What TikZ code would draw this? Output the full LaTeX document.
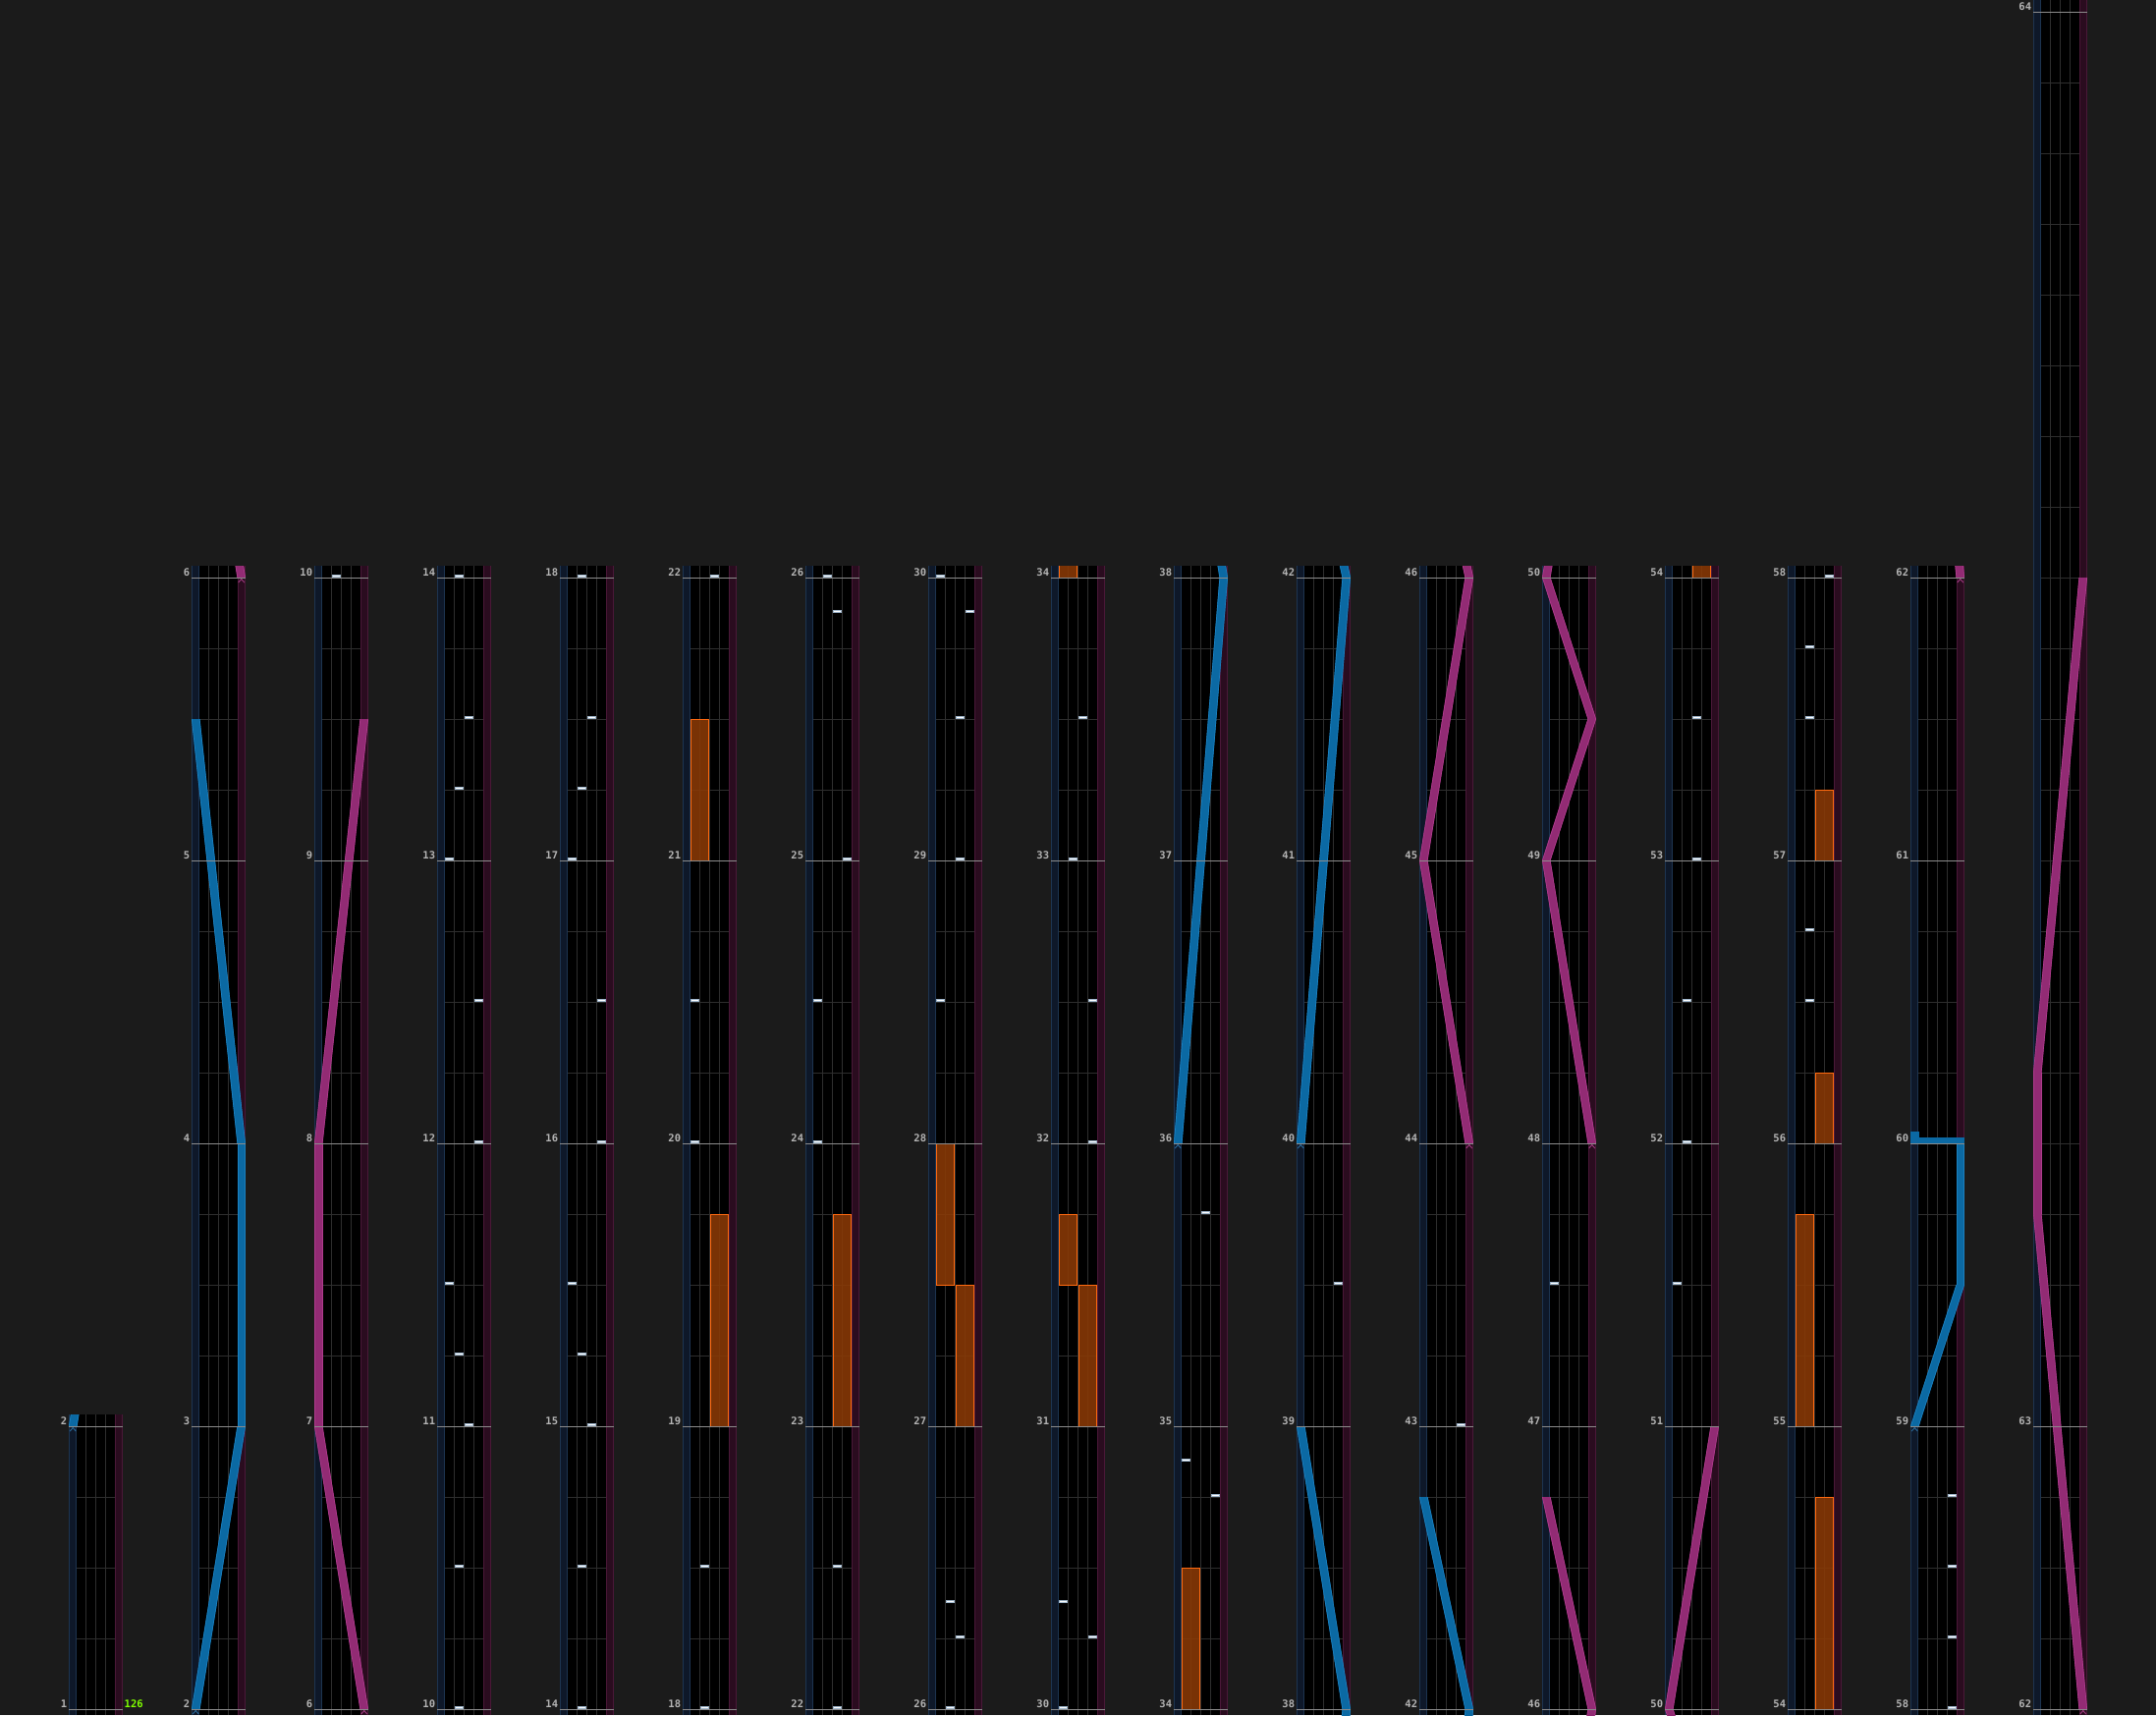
\documentclass[tikz,border=0pt]{standalone}
\usepackage{fontspec}
\newfontfamily\labfont{DejaVu Sans Mono}
\definecolor{bgc}{HTML}{1B1B1B}
\definecolor{gridc}{HTML}{2E2E2E}
\definecolor{railLc}{HTML}{0E1829}
\definecolor{railLe}{HTML}{1D3450}
\definecolor{railRc}{HTML}{2A0C1F}
\definecolor{railRe}{HTML}{4A1838}
\definecolor{mlinec}{HTML}{8C8C8C}
\definecolor{labc}{HTML}{B4B4B4}
\definecolor{lblue}{HTML}{0B69A3}
\definecolor{lbluee}{HTML}{1A80C0}
\definecolor{lmag}{HTML}{922B74}
\definecolor{lmage}{HTML}{AE3B8C}
\definecolor{mkblue}{HTML}{2A6A9A}
\definecolor{mkmag}{HTML}{A03A80}
\definecolor{chipb}{HTML}{9FB6CC}
\definecolor{fxfill}{HTML}{8A3A06}
\definecolor{fxedge}{HTML}{FF6A10}
\definecolor{bpmc}{HTML}{80FF00}
\tikzset{
  gridline/.style={draw=gridc, line width=0.8pt},
  mline/.style={draw=mlinec, line width=1pt},
  lab/.style={anchor=base east, inner sep=0pt, text=labc, font=\labfont\bfseries\fontsize{10.5}{12}\selectfont},
  bpm/.style={anchor=base west, inner sep=0pt, text=bpmc, font=\labfont\bfseries\fontsize{10.5}{12}\selectfont},
  chipbox/.style={fill=white, draw=chipb, line width=0.6pt},
  fxbox/.style={fill=fxfill, fill opacity=0.88, draw=fxedge, line width=0.8pt},
}
\def\curB{0}\def\curhi{4.1667}
% visibility test: #1,#2 beats (global), #3 code
\newcommand\vis[3]{\pgfmathsetmacro\vlo{min(#1,#2)-\curB}\pgfmathsetmacro\vhi{max(#1,#2)-\curB}%
  \ifdim\vhi pt<-0.3pt\relax\else\ifdim\vlo pt>\curhi pt\relax\else#3\fi\fi}
% chip: #1 beat, #2 lane
\newcommand\chip[2]{\vis{#1}{#1}{\filldraw[chipbox] ({7.3+10*(#2-1)+1.2},{#1-\curB+0.8/72}) rectangle ({7.3+10*#2-1.2},{#1-\curB+3.2/72});}}
% fx hold: #1 start, #2 end, #3 side (0 left, 1 right)
\newcommand\fx[3]{\vis{#1}{#2}{\filldraw[fxbox] ({8.3+20*#3},{#1-\curB}) rectangle ({26.7+20*#3},{#2-\curB});}}
% laser: #1 colour, #2 edge colour, #3 list T1/p1/T2/p2
\newcommand\laser[3]{%
  \foreach \ta/\pa/\tb/\pb in {#3}{\vis{\ta}{\tb}{\fill[#1] ({46.5*\pa},{\ta-\curB}) -- ({46.5*\pa+8.5},{\ta-\curB}) -- ({46.5*\pb+8.5},{\tb-\curB}) -- ({46.5*\pb},{\tb-\curB}) -- cycle;}}%
  \foreach \ta/\pa/\tb/\pb in {#3}{\vis{\ta}{\tb}{\draw[#2, line width=0.7pt] ({46.5*\pa+0.35},{\ta-\curB}) -- ({46.5*\pb+0.35},{\tb-\curB}) ({46.5*\pa+8.15},{\ta-\curB}) -- ({46.5*\pb+8.15},{\tb-\curB});}}}
% start marker: #1 beat, #2 pos, #3 colour
\newcommand\startmk[3]{\vis{#1}{#1}{%
  \draw[#3, line width=0.9pt] ({46.5*#2+1.2},{#1-\curB-5/72}) -- ({46.5*#2+4.25},{#1-\curB-1.5/72}) -- ({46.5*#2+7.3},{#1-\curB-5/72});
  \draw[white, line width=1pt] ({46.5*#2+0.8},{#1-\curB}) -- ({46.5*#2+7.7},{#1-\curB});}}
\newcommand\chart{%
  \fx{72}{75}{1}\fx{80}{82}{0}\fx{88}{91}{1}\fx{104}{106}{1}\fx{106}{108}{0}
  \fx{120}{122}{1}\fx{122}{123}{0}\fx{132}{134}{0}
  \fx{212}{215}{1}\fx{216}{219}{0}\fx{220}{221}{1}\fx{224}{225}{1}
  \laser{lblue}{lbluee}{4/0/8/1,8/1/12/1,12/1/18/0}
  \laser{lblue}{lbluee}{140/0/148/1,148/1/152/0}
  \laser{lblue}{lbluee}{156/0/164/1,164/1/167/0}
  \laser{lblue}{lbluee}{232/0/234/1,234/1/236/1}
  \vis{236}{236}{\fill[lblue] (0,{236-\curB}) rectangle (55,{236-\curB+6/72});
    \fill[lblue] (0,{236-\curB}) rectangle (8.5,{236-\curB+12/72});}
  \laser{lmag}{lmage}{20/1/24/0,24/0/28/0,28/0/34/1}
  \laser{lmag}{lmage}{172/1/176/0,176/0/180/1,180/1/183/0}
  \laser{lmag}{lmage}{188/1/192/0,192/0/194/1,194/1/196/0,196/0/200/1}
  \laser{lmag}{lmage}{244/1/251/0,251/0/253/0,253/0/260/1}
  \startmk{4}{0}{mkblue}\startmk{140}{0}{mkblue}\startmk{156}{0}{mkblue}\startmk{232}{0}{mkblue}
  \startmk{20}{1}{mkmag}\startmk{172}{1}{mkmag}\startmk{188}{1}{mkmag}\startmk{244}{1}{mkmag}
  \foreach \t/\l in {36/2,38/2,40/3,41/2,42/1,44/4,46/4,48/1,49/2,50/3,52/2,
    54/2,56/3,57/2,58/1,60/4,62/4,64/1,65/2,66/3,68/2,
    70/2,76/1,78/1,84/3,86/3,92/1,94/1,96/4,99.5/3,100/2,
    101/3,101.5/2,110/1,112/3,114/3,115.5/4,116/1,
    117/4,117.5/1,124/4,126/4,128/2,130/3,
    135/4,135.5/1,139/3,154/4,168/4,186/1,
    202/1,204/2,206/2,208/3,210/3,
    222/2,223/2,226/2,227/2,228/4,229/4,230/4,231/4}{\chip{\t}{\l}}
}
% column: #1 L, #2 B, #3 relative top, #4 number of beats, #5 labels (relative beat/num)
\newcommand\drawcol[5]{%
\def\curB{#2}\def\curhi{#3}%
\begin{scope}[shift={(#1,1740)}, yscale=-72]
  \begin{scope}
    \clip (0,-0.0834) rectangle (55,#3);
    \fill[railLc] (0,-0.0834) rectangle (7.3,#3);
    \fill[black] (7.3,-0.0834) rectangle (47.3,#3);
    \fill[railRc] (47.3,-0.0834) rectangle (55,#3);
    \foreach \xx in {17.3,27.3,37.3}{\draw[gridline] (\xx,-0.0834) -- (\xx,#3);}
    \foreach \t in {0,...,#4}{\draw[gridline] (7.3,\t) -- (47.3,\t);}
    \draw[railLe, line width=0.8pt] (0.5,-0.0834) -- (0.5,#3) (6.9,-0.0834) -- (6.9,#3);
    \draw[railRe, line width=0.8pt] (47.7,-0.0834) -- (47.7,#3) (54.5,-0.0834) -- (54.5,#3);
    \chart
  \end{scope}
  \foreach \t/\n in {#5}{\draw[mline] (0,\t) -- (55,\t); \node[lab] at (-1.7,{\t+1.2/72}) {\n};}
\end{scope}}
\begin{document}
\begin{tikzpicture}[x=1pt,y=-1pt]
\useasboundingbox (0,0) rectangle (2195,1746);
\fill[bgc] (0,0) rectangle (2195,1746);
\drawcol{70}{0}{4.1667}{4}{0/1,4/2}
\node[bpm] at (126.5,1738.8) {126};
\drawcol{195}{4}{16.1667}{16}{0/2,4/3,8/4,12/5,16/6}
\drawcol{320}{20}{16.1667}{16}{0/6,4/7,8/8,12/9,16/10}
\drawcol{445}{36}{16.1667}{16}{0/10,4/11,8/12,12/13,16/14}
\drawcol{570}{52}{16.1667}{16}{0/14,4/15,8/16,12/17,16/18}
\drawcol{695}{68}{16.1667}{16}{0/18,4/19,8/20,12/21,16/22}
\drawcol{820}{84}{16.1667}{16}{0/22,4/23,8/24,12/25,16/26}
\drawcol{945}{100}{16.1667}{16}{0/26,4/27,8/28,12/29,16/30}
\drawcol{1070}{116}{16.1667}{16}{0/30,4/31,8/32,12/33,16/34}
\drawcol{1195}{132}{16.1667}{16}{0/34,4/35,8/36,12/37,16/38}
\drawcol{1320}{148}{16.1667}{16}{0/38,4/39,8/40,12/41,16/42}
\drawcol{1445}{164}{16.1667}{16}{0/42,4/43,8/44,12/45,16/46}
\drawcol{1570}{180}{16.1667}{16}{0/46,4/47,8/48,12/49,16/50}
\drawcol{1695}{196}{16.1667}{16}{0/50,4/51,8/52,12/53,16/54}
\drawcol{1820}{212}{16.1667}{16}{0/54,4/55,8/56,12/57,16/58}
\drawcol{1945}{228}{16.1667}{16}{0/58,4/59,8/60,12/61,16/62}
\drawcol{2070}{244}{24.1667}{24}{0/62,4/63,24/64}
\end{tikzpicture}
\end{document}
